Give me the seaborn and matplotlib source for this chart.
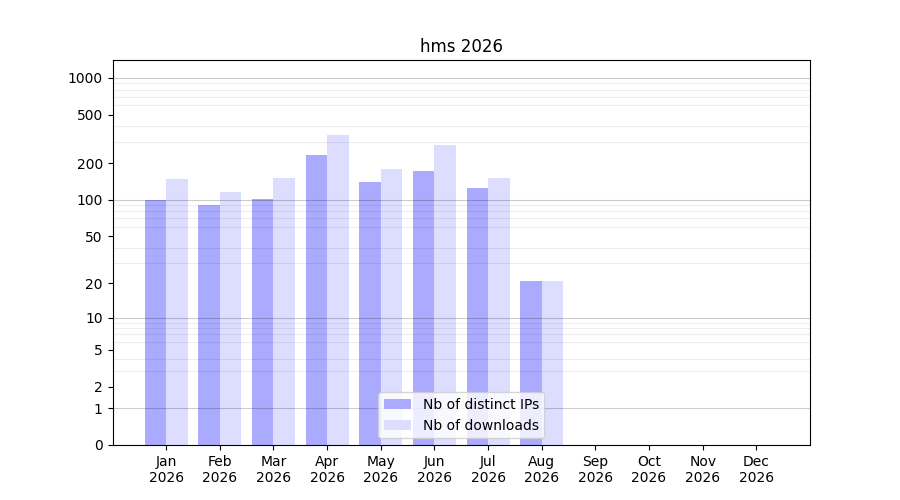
import numpy as np
import pandas as pd
import matplotlib
matplotlib.use('Agg')
import matplotlib.pyplot as plt
import seaborn as sns

months = ['Jan', 'Feb', 'Mar', 'Apr', 'May', 'Jun', 'Jul', 'Aug', 'Sep', 'Oct', 'Nov', 'Dec']
year = 2026
distinct_ips = [100, 91, 102, 234, 141, 171, 124, 21, 0, 0, 0, 0]
downloads = [149, 116, 151, 342, 180, 283, 151, 21, 0, 0, 0, 0]
yticks = [0, 1, 2, 5, 10, 20, 50, 100, 200, 500, 1000]

labels = [f'{m}\n{year}' for m in months]
df = pd.DataFrame({
    'month': labels * 2,
    'value': distinct_ips + downloads,
    'series': ['Nb of distinct IPs'] * 12 + ['Nb of downloads'] * 12,
})

fig, ax = plt.subplots(figsize=(9, 5), dpi=100)
sns.barplot(data=df, x='month', y='value', hue='series', order=labels,
            palette=['#aaaaff', '#ddddff'], saturation=1, width=0.8,
            linewidth=0, ax=ax)

ax.set_yscale('function', functions=(lambda v: np.log10(1 + np.maximum(v, 0)),
                                     lambda v: 10 ** v - 1))
ax.set_ylim(0, 1400)
ax.set_yticks(yticks)
ax.set_yticklabels([str(t) for t in yticks])

# grid lines: decades darker, the rest faint
minor = [m * 10 ** k for k in range(0, 4) for m in range(2, 10) if m * 10 ** k < 1400]
ax.set_yticks(minor, minor=True)
ax.tick_params(axis='y', which='minor', left=False, length=0)
ax.grid(axis='y', which='minor', color='k', alpha=0.07, linewidth=0.8)
ax.grid(False, axis='y', which='major')
for d in [1, 10, 100, 1000]:
    ax.axhline(d, color='k', alpha=0.2, linewidth=0.8, zorder=3)
ax.set_axisbelow(False)

ax.set_xlim(-1, 12)
ax.set_xlabel('')
ax.set_ylabel('')
ax.set_title(f'hms {year}')
ax.legend(loc='lower center')

plt.savefig('out.png', dpi=100)
